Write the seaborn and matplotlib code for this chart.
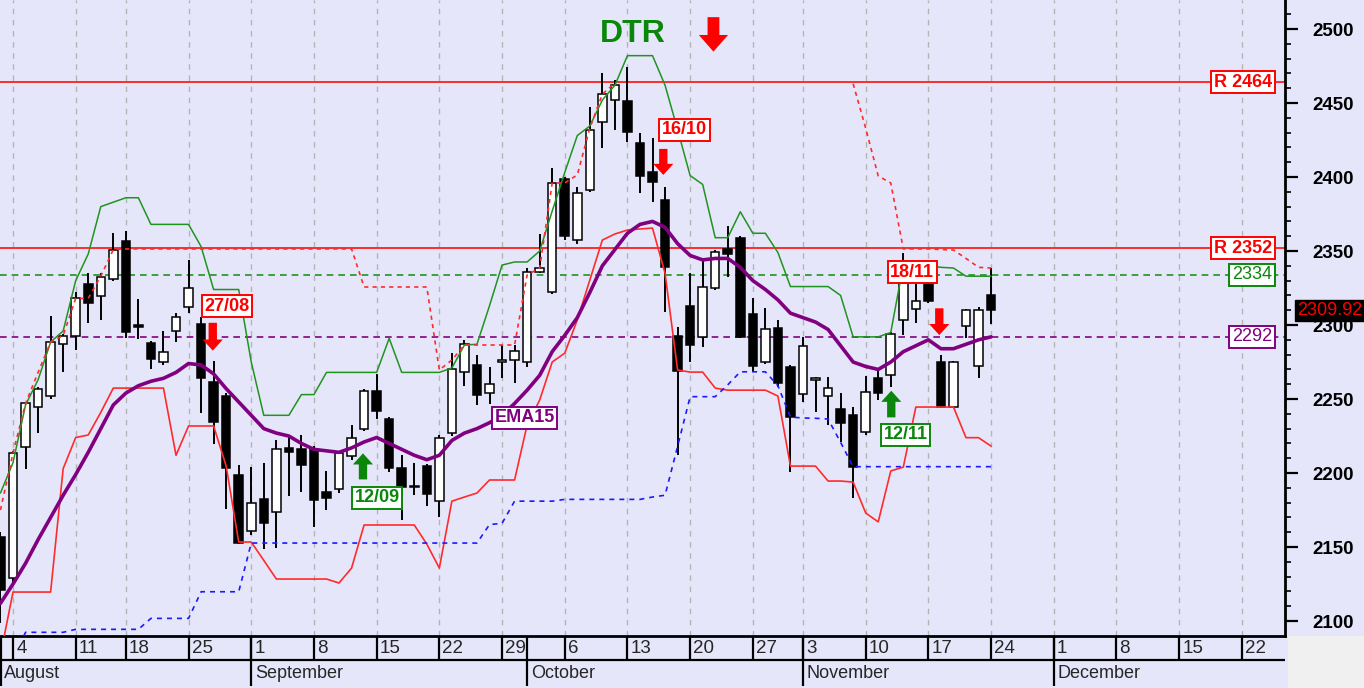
import numpy as np
import pandas as pd
import matplotlib
matplotlib.use("Agg")
import matplotlib.pyplot as plt
import seaborn as sns
from matplotlib.patches import Rectangle
from matplotlib.transforms import blended_transform_factory

BG = "#e6e6fa"
RED = "#ff2b2b"
GREEN = "#1f941f"
DKGREEN = "#0a870a"
PURPLE = "#800080"
BLUE = "#1a1aff"

# trading days (Aug 15 and Oct 28 closed)
holidays = ["2025-08-15", "2025-10-28"]
cal = pd.bdate_range("2025-08-01", "2025-12-31", freq="C", holidays=holidays)
dates = cal[cal <= "2025-11-24"]

opens = [2157, 2129, 2217.6, 2244.8, 2252, 2287.4, 2292.6, 2327.5, 2319.8, 2331,
         2357, 2300, 2288, 2275.2, 2295.7, 2312, 2301, 2261.7, 2252.2, 2198.6,
         2160.8, 2182.2, 2173.9, 2217.1, 2216.4, 2216.4, 2187.4, 2189.4, 2211.5, 2229.5,
         2255.4, 2236.3, 2203.6, 2190.5, 2204.7, 2181.1, 2226.8, 2268.2, 2272.8, 2254.3,
         2275, 2276.4, 2275.2, 2336, 2322.1, 2398.4, 2357.4, 2391.2, 2437, 2452,
         2451.4, 2422.8, 2403.6, 2384.3, 2292.6, 2313, 2291.7, 2324.8, 2351.1, 2358.6,
         2307.2, 2275.2, 2298.2, 2271.8, 2253.4, 2263, 2252, 2243.2, 2239.2, 2227.5,
         2264.4, 2266.2, 2303.4, 2310.6, 2328.2, 2274.8, 2244.4, 2299.5, 2272.5, 2320.3]
highs = [2160, 2215, 2248, 2258, 2306, 2294, 2322.5, 2335, 2335, 2362,
         2363.7, 2317.4, 2289, 2296, 2308.3, 2344, 2305.6, 2276, 2254, 2205.4,
         2204.3, 2207, 2222.3, 2224.5, 2225.7, 2218, 2201.6, 2215, 2232.4, 2257,
         2266.9, 2238, 2212.2, 2207, 2206, 2226, 2280.9, 2290, 2279.7, 2271.8,
         2286.5, 2286.5, 2338.3, 2361.5, 2405.9, 2400, 2393.4, 2447.5, 2470.5, 2465.5,
         2474.5, 2429.9, 2426.1, 2393.4, 2298.9, 2335, 2343.9, 2351, 2367.1, 2360,
         2318, 2311.3, 2303.4, 2273, 2291.7, 2265, 2265, 2253.9, 2244.4, 2265.5,
         2269.6, 2295, 2348.4, 2329.3, 2330, 2279.7, 2276, 2311, 2312, 2338.3]
lows = [2099, 2126, 2203, 2226.8, 2250, 2268.5, 2283, 2301.6, 2303.4, 2330,
        2291, 2290.3, 2270, 2273, 2288.7, 2308.3, 2240.3, 2219.6, 2175.5, 2152,
        2158, 2148.4, 2149.1, 2184.5, 2187.4, 2163.7, 2175, 2186.3, 2208.8, 2228.5,
        2236.3, 2201, 2168.2, 2185, 2177.7, 2170.5, 2225, 2258.8, 2245.9, 2246.6,
        2264, 2260.6, 2271.4, 2335, 2321, 2357.4, 2354.5, 2390, 2419.4, 2431.8,
        2423.9, 2389.4, 2383.3, 2309, 2212.2, 2275.2, 2285.3, 2324, 2332.6, 2291,
        2268.5, 2274, 2258.3, 2200.9, 2248.2, 2241.4, 2232.4, 2221.2, 2182.9, 2225.7,
        2249.3, 2257.9, 2293.2, 2301.2, 2315, 2244, 2244, 2291, 2264, 2300.7]
closes = [2121, 2213.5, 2247.3, 2256.6, 2288.7, 2292.8, 2318, 2315, 2332.6, 2351,
          2295.5, 2298.5, 2277.2, 2281.5, 2305.2, 2325.2, 2264.2, 2234.3, 2203.2, 2153,
          2179.5, 2166, 2216.4, 2214.4, 2205.2, 2181.8, 2182.9, 2213.3, 2223.9, 2255.4,
          2241.9, 2203.2, 2190.7, 2191.5, 2185.8, 2223.9, 2270.5, 2287, 2252.9, 2260.1,
          2276.5, 2282.4, 2335.6, 2338.5, 2396.1, 2360.3, 2389, 2431.8, 2456.1, 2462.2,
          2430.6, 2400.7, 2396.8, 2339, 2269.1, 2286.3, 2325.9, 2349.5, 2348, 2292.1,
          2272.3, 2297.1, 2261, 2237.6, 2285.8, 2264.5, 2257.2, 2233.6, 2204.3, 2254.5,
          2253.9, 2293.9, 2328.2, 2316.4, 2316.4, 2244.8, 2275.2, 2310.1, 2310.1, 2309.92]

ema15 = [2112, 2125, 2139, 2155, 2170, 2185, 2199, 2214, 2230, 2246,
         2254, 2259, 2262, 2264, 2268, 2274, 2273, 2267, 2257, 2248,
         2239, 2230, 2227, 2225, 2220, 2216, 2215, 2214, 2217, 2221,
         2224, 2220, 2216, 2212, 2209, 2212, 2222, 2227, 2230, 2234,
         2239, 2247, 2256, 2266, 2282, 2293, 2305, 2322, 2340, 2351,
         2362, 2368, 2370, 2366, 2355, 2347, 2344, 2345, 2345, 2339,
         2330, 2324, 2317, 2308, 2305, 2302, 2297, 2286, 2275, 2272,
         2270, 2275, 2282, 2286, 2290, 2284, 2284, 2287, 2290, 2292]
upper_band = [2186.5, 2207, 2246, 2263, 2288.5, 2296, 2330, 2348, 2380, 2383,
              2386, 2386, 2368, 2368, 2368, 2368, 2353, 2324, 2324, 2324,
              2275, 2239, 2239, 2239, 2253, 2253, 2268, 2268, 2268, 2268,
              2268, 2291, 2268, 2268, 2268, 2268, 2271, 2286.5, 2287, 2313,
              2340.5, 2342.6, 2342.6, 2350, 2377, 2403, 2428, 2434.5, 2452, 2462,
              2482, 2482, 2482, 2462, 2432, 2401, 2395, 2359, 2359, 2376.5,
              2362, 2362, 2349, 2326, 2326, 2326, 2326, 2320, 2292, 2292,
              2292, 2295, 2340.5, 2340.5, 2340, 2339, 2338.5, 2333, 2333, 2333]
lower_band = [2077, 2119.6, 2119.6, 2119.6, 2119.6, 2203, 2224, 2225.7, 2241, 2257.4,
              2257.4, 2257.4, 2257.4, 2257.4, 2212, 2231.8, 2231.8, 2231.8, 2204.7, 2153.4,
              2153.4, 2141, 2128.4, 2128.4, 2128.4, 2128.4, 2128.4, 2125.7, 2135.8, 2164.9,
              2164.9, 2164.9, 2164.9, 2164.9, 2152, 2135.8, 2181, 2183.8, 2186.5, 2195.3,
              2195.3, 2195.3, 2232.4, 2249.3, 2275, 2281, 2303.4, 2330.4, 2357.4, 2361.5,
              2364.2, 2364.9, 2365.5, 2335, 2269.6, 2268.2, 2268.2, 2257.4, 2256, 2256,
              2256, 2256, 2252, 2204.7, 2204.7, 2204.7, 2194.6, 2194.6, 2193.9, 2173,
              2167, 2201.4, 2204, 2244.6, 2244.6, 2244.6, 2244.6, 2223.9, 2223.9, 2218.2]
nan = np.nan
stop_high = ([2175, 2213.5, 2247, 2268, 2288.5, 2293, 2318, 2318, 2333, 2351]
             + [2351.4] * 19 + [2325.7] * 6
             + [2269.6, 2276.4] + [2286.5] * 5
             + [2333.8, 2338.5, 2396, 2396, 2401.4, 2433, 2456, 2463.5]
             + [nan] * 18
             + [2463, 2433, 2400.7, 2396, 2351.4, 2351.4, 2351.4, 2351, 2350.7, 2345, 2339, 2338.5])
stop_low = ([2060, 2075, 2092.4, 2092.4, 2092.4, 2092.4, 2094.4, 2094.4, 2094.4, 2094.4,
             2094.4, 2094.4, 2101.8, 2101.8, 2101.8, 2101.8, 2119.8, 2119.8, 2119.8, 2119.8]
            + [2152.7] * 19
            + [2165.2, 2166, 2181, 2181, 2181, 2181] + [2182.2] * 7
            + [2183.8, 2185, 2218, 2251.6, 2251.6, 2251.6, 2259.6, 2268.4, 2268.4, 2268.4,
               2259, 2237.8, 2237.2, 2237, 2236.5, 2220.7]
            + [2204.3] * 12)

levels = [2464, 2352, 2334, 2292]
last_price = 2309.92

df = pd.DataFrame({"x": np.arange(len(dates)), "date": dates, "open": opens, "high": highs,
                   "low": lows, "close": closes, "ema": ema15, "upper": upper_band,
                   "lower": lower_band, "stop_hi": stop_high, "stop_lo": stop_low})

sns.set_style("white", {"axes.facecolor": BG, "figure.facecolor": BG})
plt.rcParams["font.family"] = ["Liberation Sans", "DejaVu Sans"]

W, H = 1364, 688
fig = plt.figure(figsize=(W / 100, H / 100), dpi=100)
fig.patch.set_facecolor(BG)
ax = fig.add_axes([0, 52 / H, 1285 / W, 636 / H])
ax.set_facecolor(BG)
XL = (-0.037, 102.44)
ax.set_xlim(*XL)
ax.set_ylim(2089.9, 2519.6)

mondays = [i for i, d in enumerate(cal) if d.weekday() == 0 and i < XL[1]]
for m in mondays:
    ax.axvline(m, color="#b4b4b4", lw=1.0, ls=(0, (4, 4)), zorder=0.5)

# horizontal levels
ax.axhline(levels[0], color=RED, lw=1.4, zorder=1)
ax.axhline(levels[1], color=RED, lw=1.4, zorder=1)
ax.axhline(levels[2], color=GREEN, lw=1.2, ls=(0, (4, 3)), zorder=1)
ax.axhline(levels[3], color=PURPLE, lw=1.2, ls=(0, (4, 3)), zorder=1)

# candles
up = df["close"] >= df["open"]
body_lo = np.minimum(df["open"], df["close"])
body_h = np.maximum((df["close"] - df["open"]).abs(), 0.8)
ax.vlines(df["x"], df["low"], df["high"], color="black", lw=1.4, zorder=2)
ax.bar(df["x"], body_h, bottom=body_lo, width=0.68,
       color=np.where(up, "white", "black"), edgecolor="black", linewidth=1.1, zorder=3)

# indicators
sns.lineplot(data=df, x="x", y="upper", color=GREEN, lw=1.1, ax=ax, zorder=4)
sns.lineplot(data=df, x="x", y="lower", color=RED, lw=1.2, ax=ax, zorder=4)
sns.lineplot(data=df, x="x", y="stop_lo", color=BLUE, lw=1.2, linestyle=(0, (3, 3)), ax=ax, zorder=4)
for seg in (df.iloc[0:50], df.iloc[68:80]):
    sns.lineplot(data=seg, x="x", y="stop_hi", color=RED, lw=1.2, linestyle=(0, (2.5, 2.5)),
                 ax=ax, zorder=4)
sns.lineplot(data=df, x="x", y="ema", color=PURPLE, lw=2.6, ax=ax, zorder=5)


def tag(text, x, y, color, weight="bold"):
    ax.text(x, y, text, color=color, fontsize=13, fontweight=weight, ha="center", va="center",
            zorder=8, bbox=dict(boxstyle="square,pad=0.14", fc="white", ec=color, lw=1.4))


def arrow(x, y_tail, y_tip, color, big=False):
    if big:
        style = "simple,head_length=1.2,head_width=2.1,tail_width=0.85"
    else:
        style = "simple,head_length=0.8,head_width=1.45,tail_width=0.6"
    ax.annotate("", xy=(x, y_tip), xytext=(x, y_tail), zorder=8,
                arrowprops=dict(arrowstyle=style, color=color, shrinkA=0, shrinkB=0,
                                mutation_scale=10, lw=0))


tag("27/08", 18.08, 2312.6, "#ff0000")
tag("16/10", 54.55, 2432, "#ff0000")
tag("18/11", 72.72, 2335.6, "#ff0000")
tag("12/09", 30.05, 2183.3, DKGREEN)
tag("12/11", 72.17, 2226, DKGREEN)
tag("EMA15", 41.8, 2237.2, PURPLE)

arrow(16.93, 2301.5, 2282.7, "#ff0000")
arrow(52.86, 2419, 2401.4, "#ff0000")
arrow(74.87, 2311.3, 2293.2, "#ff0000")
arrow(28.91, 2195.7, 2213.3, DKGREEN)
arrow(71.04, 2237.6, 2255.6, DKGREEN)
arrow(56.86, 2508, 2484.7, "#ff0000", big=True)

ax.text(50.44, 2496.6, "DTR", color=DKGREEN, fontsize=23, fontweight="bold",
        ha="center", va="center", zorder=8)

# right-hand level boxes
tr = blended_transform_factory(ax.transAxes, ax.transData)
for txt, val, col, wt in [("R 2464", 2464, "#ff0000", "bold"), ("R 2352", 2352, "#ff0000", "bold"),
                          ("2334", 2334, DKGREEN, "normal"), ("2292", 2292, PURPLE, "normal")]:
    ax.text(1272 / 1285, val, txt, transform=tr, color=col, fontsize=13, fontweight=wt,
            ha="right", va="center", zorder=8,
            bbox=dict(boxstyle="square,pad=0.14", fc="white", ec=col, lw=1.4))
ax.text(1297 / 1285, last_price, f"{last_price:.2f}", transform=tr, color="#ff0000", fontsize=13,
        ha="left", va="center", zorder=10, clip_on=False,
        bbox=dict(boxstyle="square,pad=0.12", fc="black", ec="black"))

# y axis on the right
major = list(range(2100, 2501, 50))
ax.set_yticks(major)
ax.set_yticks(list(range(2100, 2511, 10)), minor=True)
ax.tick_params(axis="y", which="both", left=False, labelleft=False, right=True, labelright=True,
               direction="out", colors="black")
ax.tick_params(axis="y", which="major", length=9, width=1.6, pad=11, labelsize=13.5)
ax.tick_params(axis="y", which="minor", length=4.5, width=1.2)
ax.set_yticklabels([str(v) for v in major], fontweight="bold")
for t in ax.yaxis.get_major_ticks():
    t.label2.set_fontweight("bold")
ax.set_xticks([])
ax.set_xlabel("")
ax.set_ylabel("")
for s in ("top", "left"):
    ax.spines[s].set_visible(False)
ax.spines["right"].set_linewidth(2)
ax.spines["right"].set_color("black")
ax.spines["bottom"].set_linewidth(2)
ax.spines["bottom"].set_color("black")

# date strip
axd = fig.add_axes([0, 2 / H, 1285 / W, 50 / H])
axd.set_facecolor(BG)
axd.set_xlim(*XL)
axd.set_ylim(50, 0)
axd.axis("off")
day_ticks = [m for m in mondays if m < 100]
axd.vlines(day_ticks, 0, 24, color="black", lw=1.6)
axd.hlines(24, XL[0], XL[1], color="black", lw=1.6)
axd.vlines([0.05], 0, 50, color="black", lw=1.6)
for m in day_ticks:
    axd.text(m + 0.25, 12.5, str(cal[m].day), fontsize=13.5, ha="left", va="center")
month_starts = []
for i, d in enumerate(cal):
    if i == 0 or d.month != cal[i - 1].month:
        if i < XL[1]:
            month_starts.append(i)
for i in month_starts:
    if i > 0:
        axd.vlines(i, 0, 50, color="black", lw=1.6)
    axd.text(i + 0.3, 37, cal[i].strftime("%B"), fontsize=13, ha="left", va="center")

fig.patches.append(Rectangle((1288 / W, 0), 1 - 1288 / W, 52 / H, transform=fig.transFigure,
                             facecolor="#f0f0f0", edgecolor="none", zorder=0))

fig.savefig("out.png", dpi=100, facecolor=BG)
